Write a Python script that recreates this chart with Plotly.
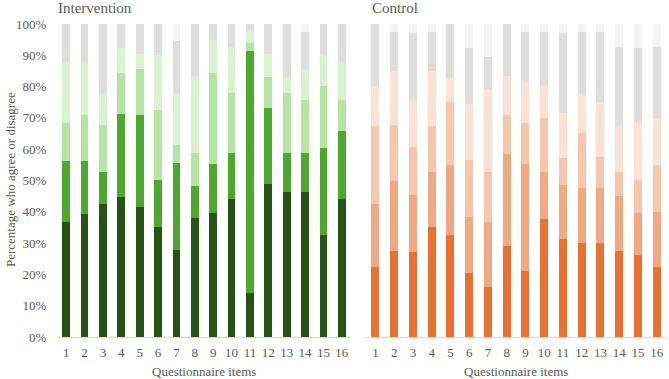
import plotly.graph_objects as go

items = [str(i) for i in range(1, 17)]
y_ticks = list(range(0, 101, 10))
y_tick_labels = [f"{v}%" for v in y_ticks]

# Intervention group: six response levels (percent of respondents)
int_level1 = [36.6, 39.2, 42.5, 44.8, 41.6, 35.0, 27.8, 38.1, 39.5, 44.1, 14.2, 48.8, 46.4, 46.4, 32.6, 44.1]
int_level2 = [19.6, 17.0, 10.1, 26.4, 29.3, 15.2, 27.9, 10.2, 15.9, 14.6, 77.3, 24.5, 12.3, 12.3, 27.7, 21.8]
int_level3 = [12.3, 14.7, 15.1, 13.2, 14.6, 22.4, 5.5, 10.6, 29.0, 19.3, 2.3, 9.7, 19.3, 17.0, 19.9, 9.8]
int_level4 = [19.5, 17.1, 9.9, 7.8, 4.8, 17.5, 16.6, 24.2, 10.5, 14.7, 4.0, 7.4, 5.1, 9.8, 10.1, 12.3]
int_level5 = [12.0, 12.0, 22.4, 7.8, 9.7, 9.9, 16.9, 16.9, 5.1, 7.3, 2.2, 9.6, 16.9, 12.0, 9.7, 12.0]
int_level6 = [0, 0, 0, 0, 0, 0, 5.3, 0, 0, 0, 0, 0, 0, 2.5, 0, 0]

# Control group
ctl_level1 = [22.5, 27.6, 27.3, 35.0, 32.6, 20.5, 15.9, 29.2, 21.1, 37.6, 31.4, 30.0, 30.0, 27.5, 26.3, 22.5]
ctl_level2 = [20.0, 22.4, 18.1, 17.6, 22.4, 17.9, 20.9, 29.2, 34.2, 15.0, 17.2, 17.7, 17.7, 17.5, 13.2, 17.5]
ctl_level3 = [25.0, 17.7, 15.3, 14.9, 20.0, 18.0, 15.8, 12.5, 13.2, 17.4, 8.6, 17.4, 9.8, 7.6, 10.7, 15.0]
ctl_level4 = [12.7, 17.3, 15.1, 17.5, 7.6, 17.9, 26.3, 12.5, 13.1, 10.2, 14.3, 12.5, 17.5, 14.9, 18.4, 15.0]
ctl_level5 = [19.8, 12.5, 21.2, 12.5, 17.4, 18.0, 10.6, 16.6, 15.9, 17.3, 25.7, 19.9, 22.5, 25.0, 23.6, 22.5]
ctl_level6 = [0, 2.5, 3.0, 2.5, 0, 7.7, 10.5, 0, 2.5, 2.5, 2.8, 2.5, 2.5, 7.5, 7.8, 7.5]

int_colors = ["#275317", "#4EA72E", "#B4E5A2", "#DAF2D0", "#DEDEDE", "#F4F4F4"]
ctl_colors = ["#E97132", "#F1A983", "#F6C6AD", "#FBE2D5", "#DEDEDE", "#F4F4F4"]

FONT = "Liberation Serif"
TXT = "#595959"

fig = go.Figure()
for vals, col in zip([int_level1, int_level2, int_level3, int_level4, int_level5, int_level6], int_colors):
    fig.add_trace(go.Bar(x=items, y=vals, marker=dict(color=col, line=dict(width=0)),
                         xaxis="x", yaxis="y", showlegend=False))
for vals, col in zip([ctl_level1, ctl_level2, ctl_level3, ctl_level4, ctl_level5, ctl_level6], ctl_colors):
    fig.add_trace(go.Bar(x=items, y=vals, marker=dict(color=col, line=dict(width=0)),
                         xaxis="x2", yaxis="y2", showlegend=False))

W, H = 669, 379
ml, mr, mt, mb = 57, 3, 24, 42
pw = W - ml - mr
ph = H - mt - mb


def px(xpix):
    return (xpix - ml) / pw


def py(ypix):
    return (H - mb - ypix) / ph


axis_common = dict(showgrid=False, zeroline=False, showline=True, linecolor="#D9D9D9", linewidth=1,
                   ticks="outside", ticklen=3, tickcolor="rgba(0,0,0,0)",
                   tickfont=dict(family=FONT, size=13, color=TXT), fixedrange=True)

fig.update_layout(
    width=W, height=H,
    margin=dict(l=ml, r=mr, t=mt, b=mb),
    paper_bgcolor="white", plot_bgcolor="white",
    barmode="stack", bargap=0.575,
    font=dict(family=FONT, color=TXT),
    xaxis=dict(domain=[0, px(351)], **axis_common),
    xaxis2=dict(domain=[px(366), 1], anchor="y2", **axis_common),
    yaxis=dict(range=[0, 100], tickmode="array", tickvals=y_ticks, ticktext=y_tick_labels,
               showgrid=False, zeroline=False, showline=False,
               ticks="outside", ticklen=7, tickcolor="rgba(0,0,0,0)",
               tickfont=dict(family=FONT, size=13, color=TXT), fixedrange=True),
    yaxis2=dict(range=[0, 100], anchor="x2", showticklabels=False, showgrid=False,
                zeroline=False, showline=False, fixedrange=True),
    annotations=[
        dict(text="Intervention", x=px(56), y=py(8), xref="paper", yref="paper",
             xanchor="left", yanchor="middle", showarrow=False,
             font=dict(family=FONT, size=15, color=TXT)),
        dict(text="Control", x=px(370), y=py(8), xref="paper", yref="paper",
             xanchor="left", yanchor="middle", showarrow=False,
             font=dict(family=FONT, size=15, color=TXT)),
        dict(text="Questionnaire items", x=px(204), y=py(371),
             xref="paper", yref="paper", xanchor="center", yanchor="middle", showarrow=False,
             font=dict(family=FONT, size=13, color=TXT)),
        dict(text="Questionnaire items", x=px(516), y=py(371),
             xref="paper", yref="paper", xanchor="center", yanchor="middle", showarrow=False,
             font=dict(family=FONT, size=13, color=TXT)),
        dict(text="Percentage who agree or disagree", x=px(10), y=py(180),
             xref="paper", yref="paper", xanchor="center", yanchor="middle", textangle=-90,
             showarrow=False, font=dict(family=FONT, size=13, color=TXT)),
    ],
)

fig.write_html("out.html")
